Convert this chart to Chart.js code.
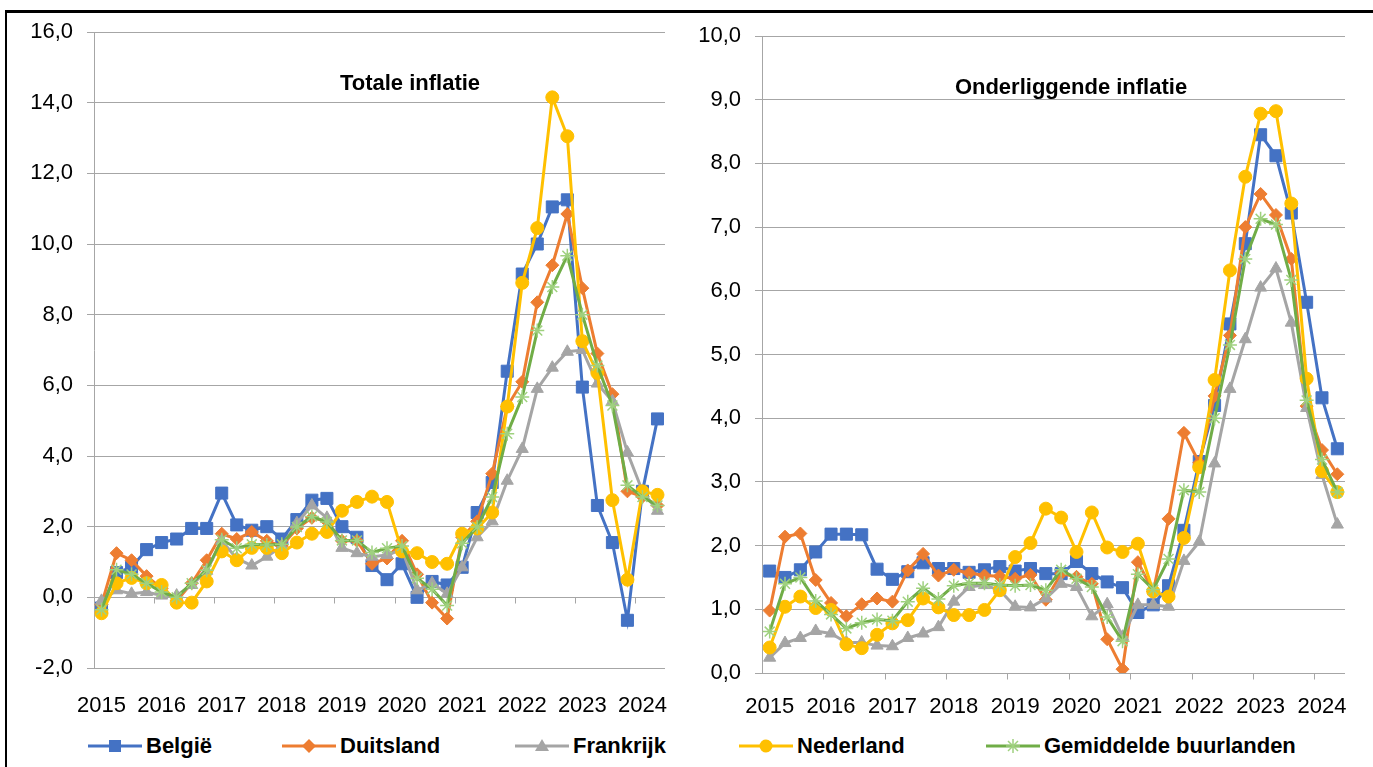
<!DOCTYPE html>
<html>
<head>
<meta charset="utf-8">
<script src="https://cdn.jsdelivr.net/npm/chart.js@4.4.1/dist/chart.umd.min.js"></script>
<style>
  body { margin: 0; background: #fff; width: 1373px; height: 767px; overflow: hidden; position: relative;
         font-family: "Liberation Sans", Arial, sans-serif; }
  .frame { position: absolute; left: 5px; top: 10px; width: 1368px; height: 757px; box-sizing: border-box;
           border-top: 3px solid #000; border-left: 2px solid #000; }
  .box { position: absolute; top: 0; }
  .title { position: absolute; font-weight: bold; font-size: 22px; color: #000; white-space: nowrap;
           transform: translateX(-50%); }
  .item { position: absolute; top: 734px; height: 24px; display: flex; align-items: center;
          font-weight: bold; font-size: 22px; color: #000; white-space: nowrap; }
  .item svg { margin-right: 4px; }
</style>
</head>
<body>
<div class="frame"></div>
<div class="box" style="left:0"><canvas id="totaal" width="690" height="725"></canvas></div>
<div class="box" style="left:690px"><canvas id="kern" width="683" height="725"></canvas></div>
<div class="title" style="left:410px; top:70px">Totale inflatie</div>
<div class="title" style="left:1071px; top:74px">Onderliggende inflatie</div>
<div id="legenda"></div>

<script>
const years = ['2015', '2016', '2017', '2018', '2019', '2020', '2021', '2022', '2023', '2024'];
const quarters = years.flatMap(y => ['K1', 'K2', 'K3', 'K4'].map(q => y + ' ' + q)).slice(0, 38);

const countries = ['België', 'Duitsland', 'Frankrijk', 'Nederland', 'Gemiddelde buurlanden'];

// totale inflatie (%)
const belgieTot = [-0.3, 0.7, 0.85, 1.35, 1.55, 1.65, 1.95, 1.95, 2.95, 2.05, 1.9, 2.0, 1.65, 2.2, 2.75, 2.8, 2.0, 1.7, 0.9, 0.5,
  0.95, 0.0, 0.45, 0.35, 0.85, 2.4, 3.25, 6.4, 9.15, 10.0, 11.05, 11.25, 5.95, 2.6, 1.55, -0.65, 3.0, 5.05];
const duitslandTot = [-0.2, 1.25, 1.05, 0.6, 0.25, -0.1, 0.4, 1.05, 1.8, 1.65, 1.85, 1.6, 1.45, 1.95, 2.25, 2.15, 1.6, 1.6, 0.95, 1.1,
  1.6, 0.65, -0.15, -0.6, 1.7, 2.15, 3.5, 5.4, 6.1, 8.35, 9.4, 10.85, 8.75, 6.9, 5.75, 3.0, 2.85, 2.6];
const frankrijkTot = [-0.1, 0.2, 0.1, 0.15, 0.05, 0.05, 0.35, 0.75, 1.6, 1.1, 0.9, 1.15, 1.45, 2.1, 2.6, 2.25, 1.4, 1.25, 1.15, 1.2,
  1.35, 0.2, 0.4, 0.1, 0.85, 1.7, 2.15, 3.3, 4.2, 5.9, 6.5, 6.95, 7.0, 6.05, 5.55, 4.1, 3.0, 2.45];
const nederlandTot = [-0.45, 0.4, 0.55, 0.4, 0.35, -0.15, -0.15, 0.45, 1.3, 1.05, 1.4, 1.4, 1.25, 1.55, 1.8, 1.85, 2.45, 2.7, 2.85, 2.7,
  1.3, 1.25, 1.0, 0.95, 1.8, 1.95, 2.4, 5.4, 8.9, 10.45, 14.15, 13.05, 7.25, 6.35, 2.75, 0.5, 3.0, 2.9];
const gemiddeldeTot = [-0.35, 0.78, 0.65, 0.4, 0.15, 0.0, 0.4, 0.77, 1.63, 1.39, 1.5, 1.48, 1.5, 1.99, 2.29, 2.13, 1.61, 1.61, 1.27, 1.39,
  1.45, 0.54, 0.23, -0.23, 1.53, 1.99, 2.84, 4.63, 5.67, 7.55, 8.78, 9.67, 8.0, 6.56, 5.43, 3.17, 2.84, 2.6];

// onderliggende inflatie (%)
const belgieKern = [1.6, 1.5, 1.62, 1.9, 2.18, 2.18, 2.17, 1.63, 1.47, 1.59, 1.73, 1.64, 1.64, 1.58, 1.62, 1.67, 1.6, 1.64, 1.56, 1.56,
  1.75, 1.56, 1.43, 1.34, 0.95, 1.07, 1.37, 2.24, 3.32, 4.2, 5.48, 6.74, 8.45, 8.12, 7.22, 5.82, 4.32, 3.52];
const duitslandKern = [0.98, 2.14, 2.19, 1.46, 1.1, 0.89, 1.08, 1.17, 1.12, 1.61, 1.87, 1.53, 1.62, 1.57, 1.53, 1.52, 1.48, 1.54, 1.15, 1.56,
  1.51, 1.4, 0.53, 0.06, 1.74, 1.28, 2.42, 3.77, 3.3, 4.35, 5.3, 7.0, 7.52, 7.19, 6.5, 4.19, 3.5, 3.12];
const frankrijkKern = [0.24, 0.47, 0.55, 0.66, 0.62, 0.48, 0.48, 0.43, 0.42, 0.55, 0.62, 0.72, 1.12, 1.35, 1.38, 1.3, 1.04, 1.03, 1.17, 1.4,
  1.35, 0.89, 1.08, 0.57, 1.07, 1.07, 1.04, 1.76, 2.06, 3.29, 4.46, 5.24, 6.05, 6.35, 5.5, 4.16, 3.11, 2.33];
const nederlandKern = [0.4, 1.04, 1.2, 1.02, 0.99, 0.45, 0.39, 0.6, 0.78, 0.83, 1.17, 1.03, 0.91, 0.91, 0.99, 1.3, 1.82, 2.04, 2.58, 2.44,
  1.9, 2.52, 1.97, 1.9, 2.03, 1.28, 1.2, 2.12, 3.23, 4.6, 6.32, 7.79, 8.78, 8.82, 7.37, 4.62, 3.17, 2.84];
const gemiddeldeKern = [0.65, 1.4, 1.5, 1.13, 0.92, 0.7, 0.79, 0.84, 0.82, 1.12, 1.33, 1.16, 1.37, 1.41, 1.41, 1.38, 1.37, 1.38, 1.3, 1.62,
  1.48, 1.35, 0.88, 0.5, 1.55, 1.31, 1.79, 2.87, 2.84, 4.0, 5.15, 6.5, 7.13, 7.04, 6.17, 4.28, 3.35, 2.84];

const colors = ['#4472C4', '#ED7D31', '#A5A5A5', '#FFC000', '#70AD47'];
const gridColor = '#a6a6a6';

// marker look per series (Excel style)
const markers = [
  { pointStyle: 'rect', pointRadius: 8.5 },
  { pointStyle: 'rectRot', pointRadius: 6.5 },
  { pointStyle: 'triangle', pointRadius: 7 },
  { pointStyle: 'circle', pointRadius: 6.5 },
  { pointStyle: 'star', pointRadius: 7 },
];

function datasets(series) {
  return series.map((vals, i) => ({
    label: countries[i],
    data: vals,
    borderColor: colors[i],
    backgroundColor: colors[i],
    borderWidth: 3,
    pointStyle: markers[i].pointStyle,
    pointRadius: markers[i].pointRadius,
    pointBackgroundColor: colors[i],
    pointBorderColor: i === 4 ? '#9fd17f' : colors[i],
    pointBorderWidth: i === 4 ? 1.5 : 1,
    tension: 0,
    order: 5 - i,
  }));
}

// small tick marks on the 0 line at each year boundary
const jaarStreepjes = {
  id: 'jaarStreepjes',
  beforeDatasetsDraw(chart) {
    const xs = chart.scales.x, ys = chart.scales.y;
    const y0 = Math.round(ys.getPixelForValue(0)) + 0.5;
    const ctx = chart.ctx;
    ctx.save();
    ctx.strokeStyle = gridColor;
    ctx.lineWidth = 1;
    ctx.beginPath();
    for (let i = 4; i < quarters.length; i += 4) {
      const px = Math.round((xs.getPixelForValue(i - 1) + xs.getPixelForValue(i)) / 2) + 0.5;
      ctx.moveTo(px, y0);
      ctx.lineTo(px, y0 + 6);
    }
    ctx.stroke();
    ctx.restore();
  }
};

function maakGrafiek(id, series, yMin, yMax, step, opts) {
  new Chart(document.getElementById(id), {
    type: 'line',
    data: { labels: quarters, datasets: datasets(series) },
    plugins: [jaarStreepjes],
    options: {
      responsive: false,
      animation: false,
      layout: { padding: { top: opts.top, right: opts.right, left: 0, bottom: 0 } },
      plugins: { legend: { display: false }, tooltip: { enabled: false } },
      scales: {
        x: {
          type: 'category',
          offset: true,
          grid: { display: false },
          border: { display: false },
          ticks: {
            autoSkip: false, maxRotation: 0, padding: opts.labelPad,
            color: '#000', font: { family: '"Liberation Sans", Arial, sans-serif', size: 22 },
            callback: (v, idx) => idx % 4 === 0 ? years[idx / 4] : '',
          },
          afterFit: s => { s.height = opts.xHeight; },
        },
        y: {
          min: yMin, max: yMax,
          grid: { color: gridColor, lineWidth: 1, tickLength: 7 },
          border: { display: true, color: gridColor, width: 1 },
          ticks: {
            stepSize: step, padding: 14, color: '#000',
            font: { family: '"Liberation Sans", Arial, sans-serif', size: 22 },
            callback: v => v.toFixed(1).replace('.', ','),
          },
          afterFit: s => { s.width = opts.yWidth; },
        },
      },
    },
  });
}

maakGrafiek('totaal', [belgieTot, duitslandTot, frankrijkTot, nederlandTot, gemiddeldeTot], -2, 16, 2,
  { top: 32, right: 25, yWidth: 94, xHeight: 57, labelPad: 17 });
maakGrafiek('kern', [belgieKern, duitslandKern, frankrijkKern, nederlandKern, gemiddeldeKern], 0, 10, 1,
  { top: 36, right: 28, yWidth: 72, xHeight: 52, labelPad: 13 });

// shared legend under both panels
const legendX = [88, 282, 515, 739, 986];
function markerSvg(i) {
  const c = colors[i];
  let m;
  if (i === 0) m = `<rect x="21" y="4" width="12" height="12" fill="${c}"/>`;
  else if (i === 1) m = `<polygon points="27,3 34,10 27,17 20,10" fill="${c}"/>`;
  else if (i === 2) m = `<polygon points="27,3 34,15 20,15" fill="${c}"/>`;
  else if (i === 3) m = `<circle cx="27" cy="10" r="6.5" fill="${c}"/>`;
  else m = `<g stroke="#9fd17f" stroke-width="1.5"><line x1="27" y1="3" x2="27" y2="17"/><line x1="20" y1="10" x2="34" y2="10"/>` +
           `<line x1="22" y1="5" x2="32" y2="15"/><line x1="32" y1="5" x2="22" y2="15"/></g>`;
  return `<svg width="54" height="20"><line x1="0" y1="10" x2="54" y2="10" stroke="${c}" stroke-width="3"/>${m}</svg>`;
}
document.getElementById('legenda').innerHTML = countries.map((name, i) =>
  `<div class="item" style="left:${legendX[i]}px">${markerSvg(i)}<span>${name}</span></div>`).join('');
</script>
</body>
</html>
